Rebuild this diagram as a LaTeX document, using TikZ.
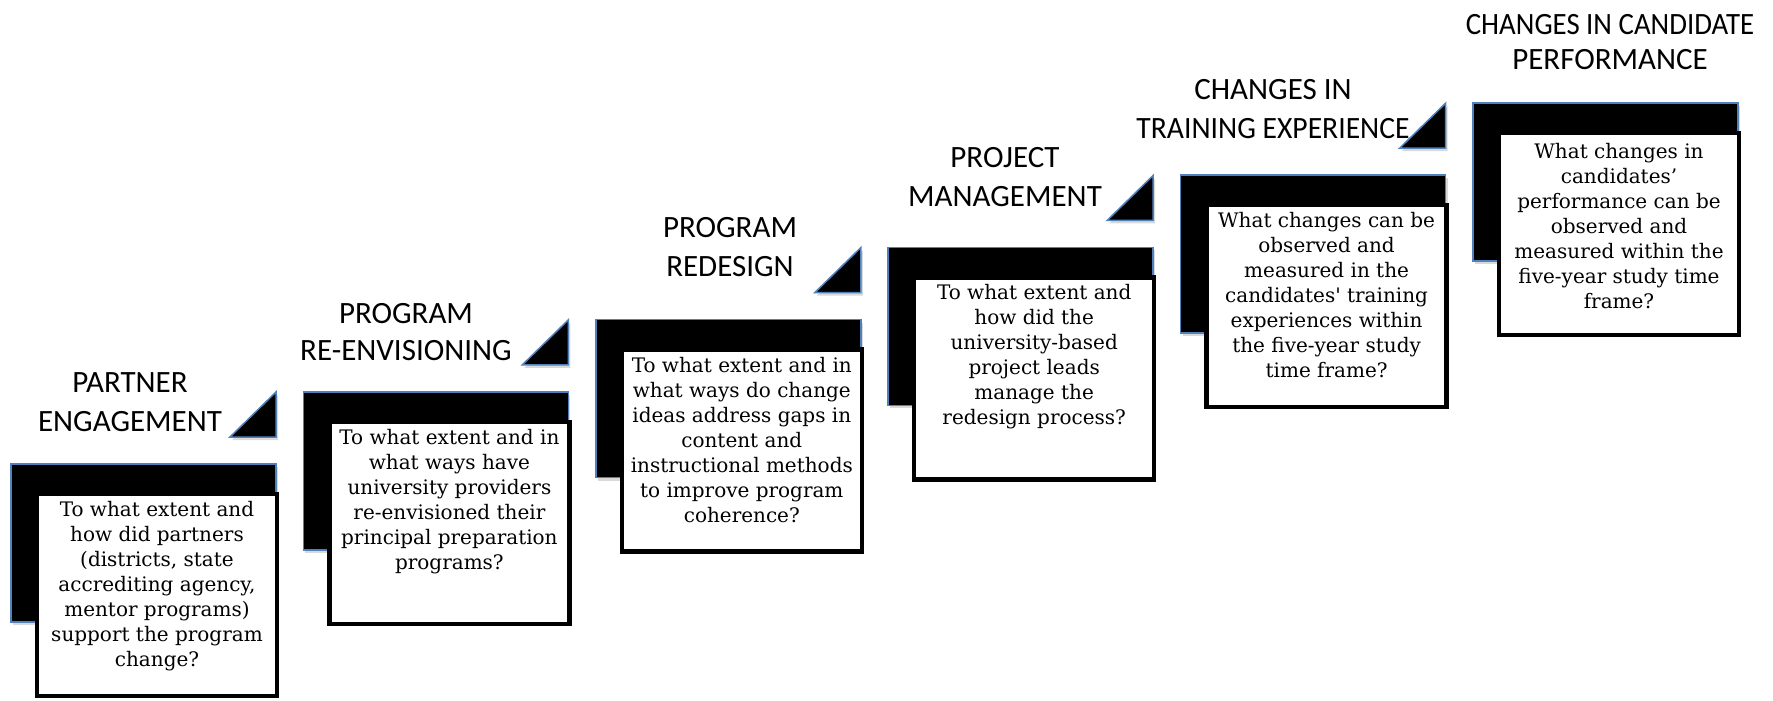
\documentclass[tikz,border=0pt]{standalone}
\usepackage{fontspec}
\setmainfont{DejaVu Serif}
\newfontfamily\titlefont{Carlito}
\usepackage{graphicx}
\usetikzlibrary{positioning,shadows}
\definecolor{edgeblue}{HTML}{4F81BD}

\begin{document}
\begin{tikzpicture}[x=0.5pt,y=-0.5pt,
        blk/.style={fill=black,draw=edgeblue,line width=0.75pt,drop shadow={shadow xshift=1pt,shadow yshift=-1.5pt,opacity=0.3}},
        qbox/.style={draw=black,fill=white,line width=2.25pt,minimum width=120pt,minimum height=101pt,inner sep=0pt},
        qtext/.style={align=center,inner sep=0pt,font=\fontsize{10}{12.5}\selectfont},
        ttl/.style={align=center,inner sep=0pt,font=\titlefont\fontsize{15.5}{19.5}\selectfont}]
        \useasboundingbox(0,0)rectangle(1773,701);

        % partner engagement
        \node[ttl](h1)at(130,402.5){PARTNER\\ENGAGEMENT};
        \draw[blk](230,437)--(276,437)--(276,392)--cycle;
        \draw[blk](11,464)rectangle(276,622);
        \node[qbox](q1)at(157,595){};
        \node[qtext,below=4.8pt of q1.north](t1){To what extent and\\how did partners\\(districts, state\\accrediting agency,\\mentor programs)\\support the program\\change?};

        % program re-envisioning
        \node[ttl,font=\titlefont\fontsize{15.5}{18.5}\selectfont](h2)at(406,332){PROGRAM\\RE-ENVISIONING};
        \draw[blk](522.4,364.8)--(568.4,364.8)--(568.4,319.8)--cycle;
        \draw[blk](303.4,391.8)rectangle(568.4,549.8);
        \node[qbox](q2)at(449.4,522.8){};
        \node[qtext,below=4.8pt of q2.north](t2){To what extent and in\\what ways have\\university providers\\re-envisioned their\\principal preparation\\programs?};

        % program redesign
        \node[ttl](h3)at(730,247.5){PROGRAM\\REDESIGN};
        \draw[blk](814.8,292.6)--(860.8,292.6)--(860.8,247.6)--cycle;
        \draw[blk](595.8,319.6)rectangle(860.8,477.6);
        \node[qbox](q3)at(741.8,450.6){};
        \node[qtext,below=4.8pt of q3.north](t3){To what extent and in\\what ways do change\\ideas address gaps in\\content and\\instructional methods\\to improve program\\coherence?};

        % project management
        \node[ttl](h4)at(1005,177){PROJECT\\MANAGEMENT};
        \draw[blk](1107.2,220.4)--(1153.2,220.4)--(1153.2,175.4)--cycle;
        \draw[blk](888.2,247.4)rectangle(1153.2,405.4);
        \node[qbox](q4)at(1034.2,378.4){};
        \node[qtext,below=4.3pt of q4.north](t4){To what extent and\\how did the\\university-based\\project leads\\manage the\\redesign process?};

        % changes in training experience
        \node[ttl](h5)at(1273,109){CHANGES IN\\\scalebox{0.955}[1]{TRAINING EXPERIENCE}};
        \draw[blk](1399.6,148.2)--(1445.6,148.2)--(1445.6,103.2)--cycle;
        \draw[blk](1180.6,175.2)rectangle(1445.6,333.2);
        \node[qbox](q5)at(1326.6,306.2){};
        \node[qtext,below=4.5pt of q5.north](t5){What changes can be\\observed and\\measured in the\\candidates\textquotesingle{} training\\experiences within\\the five-year study\\time frame?};

        % changes in candidate performance
        \node[ttl,font=\titlefont\fontsize{15.5}{17.5}\selectfont](h6)at(1610,42.5){\scalebox{0.93}[1]{CHANGES IN CANDIDATE}\\PERFORMANCE};
        \draw[blk](1473,103)rectangle(1738,261);
        \node[qbox](q6)at(1619,234){};
        \node[qtext,below=6pt of q6.north](t6){What changes in\\candidates'\\performance can be\\observed and\\measured within the\\five-year study time\\frame?};
    \end{tikzpicture}
\end{document}
